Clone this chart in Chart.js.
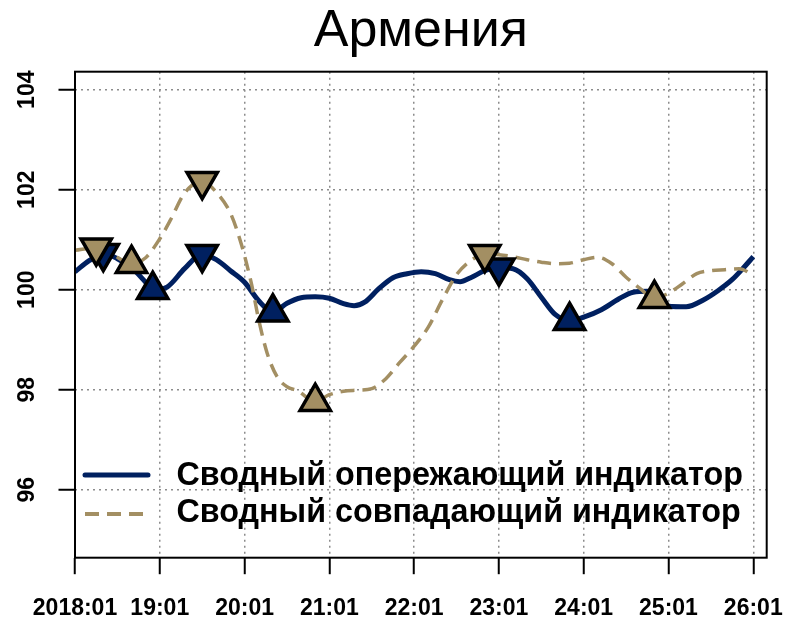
<!DOCTYPE html>
<html>
<head>
<meta charset="utf-8">
<script src="https://cdn.jsdelivr.net/npm/chart.js@4"></script>
<style>
  html, body { margin: 0; padding: 0; background: #fff; }
</style>
</head>
<body>
<canvas id="chart" width="800" height="640"></canvas>
<script>
var titleText = "Армения";
var seriesNames = ["Сводный опережающий индикатор", "Сводный совпадающий индикатор"];

// months counted from 2018:01
var tickMonths = [0, 12, 24, 36, 48, 60, 72, 84, 96];
var tickLabels = ["2018:01", "19:01", "20:01", "21:01", "22:01", "23:01", "24:01", "25:01", "26:01"];
var yTicks = [96, 98, 100, 102, 104];

// leading indicator (solid navy)
var leadMonths = [0, 2, 4, 6, 8, 10, 11, 13, 15.5, 18, 20, 22, 24, 26, 28, 30, 32, 34, 36, 38,
  39.5, 41, 43, 45, 47, 49, 51, 53, 54.5, 56, 58, 60, 62, 64, 66, 68, 70, 72, 74.5, 77,
  79, 81, 82.5, 84, 86.5, 89, 91, 93, 94.5, 96];
var leadValues = [100.36, 100.58, 100.73, 100.62, 100.44, 100.15, 100.00, 100.05, 100.42, 100.71,
  100.60, 100.38, 100.15, 99.78, 99.55, 99.73, 99.84, 99.86, 99.83, 99.72,
  99.68, 99.75, 100.02, 100.24, 100.32, 100.36, 100.32, 100.20, 100.16, 100.24,
  100.38, 100.44, 100.42, 100.22, 99.85, 99.50, 99.38, 99.45, 99.60, 99.82,
  99.95, 99.97, 99.82, 99.67, 99.66, 99.80, 99.98, 100.20, 100.42, 100.66];

// coincident indicator (dashed khaki)
var coinMonths = [0, 3, 5, 8, 10, 12, 13.5, 15.5, 18, 20, 22, 23.5, 25, 26, 27.2, 28.6, 30, 31.5, 34, 36,
  38, 40, 42, 44, 46, 48, 50, 52, 54, 56, 58, 60, 62, 64, 66, 68, 70, 72, 74, 76,
  78, 80, 82, 84, 86, 88, 90, 92, 94, 96];
var coinValues = [100.79, 100.84, 100.73, 100.52, 100.64, 101.02, 101.39, 101.93, 102.17, 101.95,
  101.53, 100.93, 100.10, 99.40, 98.73, 98.26, 98.06, 97.98, 97.76, 97.90,
  97.97, 97.99, 98.02, 98.22, 98.55, 98.87, 99.25, 99.80, 100.30, 100.58,
  100.71, 100.70, 100.66, 100.60, 100.55, 100.52, 100.53, 100.60, 100.65, 100.52,
  100.25, 100.02, 99.82, 99.93, 100.12, 100.32, 100.38, 100.40, 100.42, 100.29];

// turning points
var leadPeakMonths = [4, 18, 60];
var leadPeakValues = [100.73, 100.71, 100.44];
var leadTroughMonths = [11, 28, 70];
var leadTroughValues = [100.00, 99.55, 99.38];
var coinPeakMonths = [3, 18, 58];
var coinPeakValues = [100.84, 102.17, 100.71];
var coinTroughMonths = [8, 34, 82];
var coinTroughValues = [100.52, 97.76, 99.82];

var navy = '#002060';
var khaki = '#A38F63';
var fontFamily = '"Liberation Sans", Arial, Helvetica, sans-serif';

function toPoints(xs, ys) {
  return xs.map(function (x, i) { return { x: x, y: ys[i] }; });
}

function markerSet(xs, ys, color, rotation, order) {
  return {
    data: toPoints(xs, ys),
    showLine: false,
    pointStyle: 'triangle',
    rotation: rotation,
    pointRadius: 17.5,
    pointHoverRadius: 17.5,
    pointBorderWidth: 3.5,
    pointBorderColor: '#000',
    pointBackgroundColor: color,
    order: order
  };
}

// box around the plot area
var framePlugin = {
  id: 'frame',
  afterDatasetsDraw: function (chart) {
    var a = chart.chartArea, ctx = chart.ctx;
    ctx.save();
    ctx.strokeStyle = '#000';
    ctx.lineWidth = 2;
    ctx.strokeRect(a.left, a.top, a.right - a.left, a.bottom - a.top);
    ctx.restore();
  }
};

// legend inside the plot, no box
var innerLegend = {
  id: 'innerLegend',
  afterDatasetsDraw: function (chart) {
    var ctx = chart.ctx;
    var rows = [chart.data.datasets[0], chart.data.datasets[1]];
    var lineY = [475, 514];
    var textY = [476, 513];
    ctx.save();
    rows.forEach(function (ds, i) {
      ctx.beginPath();
      ctx.strokeStyle = ds.borderColor;
      ctx.lineWidth = i === 0 ? 5 : 4;
      ctx.lineCap = i === 0 ? 'round' : 'butt';
      ctx.setLineDash(ds.borderDash || []);
      ctx.moveTo(85, lineY[i]);
      ctx.lineTo(148, lineY[i]);
      ctx.stroke();
      ctx.setLineDash([]);
      ctx.fillStyle = '#000';
      ctx.font = 'bold 32.3px ' + fontFamily;
      ctx.textAlign = 'left';
      ctx.textBaseline = 'middle';
      ctx.fillText(ds.label, 176.5, textY[i]);
    });
    ctx.restore();
  }
};

var chart = new Chart(document.getElementById('chart'), {
  type: 'line',
  data: {
    datasets: [
      {
        label: seriesNames[0],
        data: toPoints(leadMonths, leadValues),
        borderColor: navy,
        borderWidth: 5,
        pointRadius: 0,
        cubicInterpolationMode: 'monotone',
        order: 4
      },
      {
        label: seriesNames[1],
        data: toPoints(coinMonths, coinValues),
        borderColor: khaki,
        borderWidth: 3.5,
        borderDash: [14, 8],
        pointRadius: 0,
        cubicInterpolationMode: 'monotone',
        order: 3
      },
      markerSet(leadPeakMonths, leadPeakValues, navy, 180, 2),
      markerSet(leadTroughMonths, leadTroughValues, navy, 0, 2),
      markerSet(coinPeakMonths, coinPeakValues, khaki, 180, 1),
      markerSet(coinTroughMonths, coinTroughValues, khaki, 0, 1)
    ]
  },
  options: {
    responsive: false,
    animation: false,
    events: [],
    layout: { padding: { left: 0, right: 33.3, top: 0, bottom: 0 } },
    plugins: {
      legend: { display: false },
      tooltip: { enabled: false },
      title: {
        display: true,
        text: titleText,
        fullSize: false,
        color: '#000',
        font: { family: fontFamily, size: 52, weight: 'normal', lineHeight: 1.2 },
        padding: { top: 0, bottom: 9.3 }
      }
    },
    scales: {
      x: {
        type: 'linear',
        min: 0,
        max: 97.9,
        afterBuildTicks: function (s) {
          s.ticks = tickMonths.map(function (v) { return { value: v }; });
        },
        afterFit: function (s) {
          s.height = 82.3;
          s.paddingLeft = 0;
          s.paddingRight = 0;
        },
        ticks: {
          autoSkip: false,
          maxRotation: 0,
          padding: 20.2,
          color: '#000',
          font: { family: fontFamily, size: 23, weight: 'bold' },
          callback: function (v, i) { return tickLabels[i]; }
        },
        grid: {
          color: '#8c8c8c',
          lineWidth: 1.5,
          tickLength: 16.5,
          tickColor: '#000',
          tickWidth: 2,
          tickBorderDash: []
        },
        border: { display: false, dash: [2, 4] }
      },
      y: {
        min: 94.64,
        max: 104.36,
        afterBuildTicks: function (s) {
          s.ticks = yTicks.map(function (v) { return { value: v }; });
        },
        afterFit: function (s) {
          s.width = 75;
          s.paddingTop = 0;
          s.paddingBottom = 0;
        },
        ticks: {
          minRotation: 90,
          maxRotation: 90,
          crossAlign: 'center',
          padding: 11.6,
          color: '#000',
          font: { family: fontFamily, size: 23, weight: 'bold' },
          callback: function (v) { return String(v); }
        },
        grid: {
          color: '#8c8c8c',
          lineWidth: 1.5,
          tickLength: 16.5,
          tickColor: '#000',
          tickWidth: 2,
          tickBorderDash: []
        },
        border: { display: false, dash: [2, 4] }
      }
    }
  },
  plugins: [framePlugin, innerLegend]
});
</script>
</body>
</html>
